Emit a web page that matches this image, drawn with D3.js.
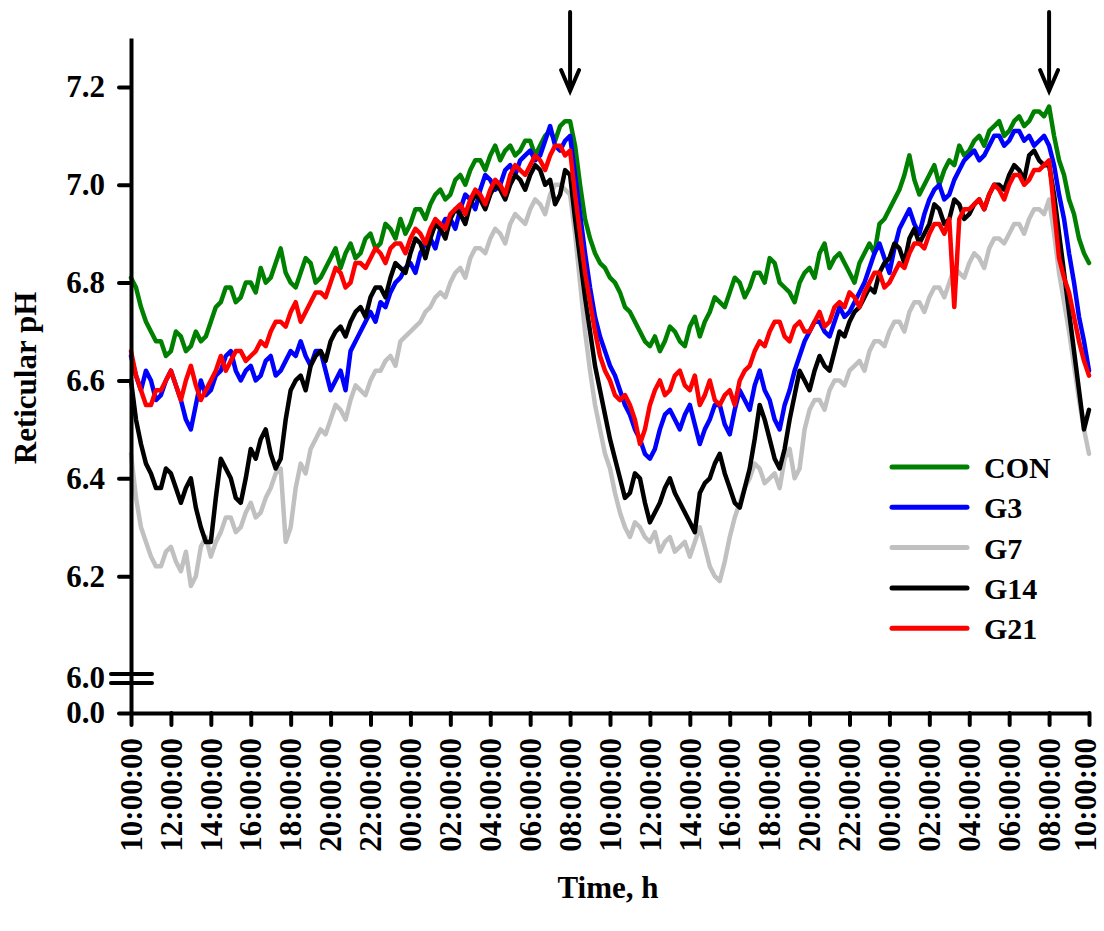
<!DOCTYPE html>
<html><head><meta charset="utf-8">
<script src="https://cdn.jsdelivr.net/npm/d3@7"></script>
<style>
body{margin:0;background:#fff}
text{font-family:"Liberation Serif","Times New Roman",serif;font-weight:bold;fill:#000}
</style></head><body>
<svg id="chart" width="1104" height="931"></svg>
<script>
// ---- data (15-minute readings, hours since 10:00:00; one row = 2 h) ----
const hours = d3.range(0, 48.25, 0.25);
const xTickHours = d3.range(0, 49, 2);
const xTickLabels = ["10:00:00","12:00:00","14:00:00","16:00:00","18:00:00","20:00:00","22:00:00","00:00:00","02:00:00","04:00:00","06:00:00","08:00:00","10:00:00","12:00:00","14:00:00","16:00:00","18:00:00","20:00:00","22:00:00","00:00:00","02:00:00","04:00:00","06:00:00","08:00:00","10:00:00"];
const yTickValues = [0.0, 6.0, 6.2, 6.4, 6.6, 6.8, 7.0, 7.2];
const arrowHours = [22, 46];
const seriesNames = ["CON","G3","G7","G14","G21"];
const seriesColors = ["#008000","#0000ff","#c0c0c0","#000000","#ff0000"];

const CON = [
 6.81,6.79,6.75,6.72,6.70,6.68,6.68,6.65,
 6.66,6.70,6.69,6.66,6.67,6.70,6.68,6.69,
 6.72,6.75,6.76,6.79,6.79,6.76,6.77,6.80,
 6.80,6.78,6.83,6.80,6.81,6.84,6.87,6.82,
 6.80,6.79,6.82,6.85,6.84,6.80,6.81,6.83,
 6.85,6.87,6.83,6.86,6.88,6.85,6.86,6.89,
 6.90,6.87,6.88,6.92,6.91,6.89,6.93,6.90,
 6.92,6.95,6.95,6.93,6.96,6.98,6.99,6.97,
 6.98,7.01,7.02,7.00,7.03,7.05,7.05,7.03,
 7.06,7.08,7.05,7.07,7.08,7.06,7.07,7.09,
 7.09,7.06,7.08,7.10,7.11,7.09,7.12,7.13,
 7.13,7.08,7.00,6.93,6.89,6.86,6.84,6.83,
 6.81,6.80,6.78,6.75,6.74,6.72,6.70,6.68,
 6.67,6.69,6.66,6.68,6.71,6.70,6.68,6.67,
 6.71,6.73,6.69,6.72,6.74,6.77,6.76,6.75,
 6.78,6.81,6.80,6.77,6.79,6.82,6.82,6.80,
 6.85,6.84,6.80,6.79,6.78,6.76,6.80,6.82,
 6.83,6.81,6.86,6.88,6.83,6.85,6.86,6.84,
 6.82,6.80,6.84,6.86,6.88,6.86,6.92,6.93,
 6.95,6.97,6.99,7.02,7.06,7.01,6.98,7.00,
 7.02,7.04,7.00,7.03,7.05,7.04,7.08,7.06,
 7.07,7.09,7.10,7.08,7.11,7.12,7.13,7.10,
 7.11,7.13,7.14,7.12,7.13,7.15,7.15,7.14,
 7.16,7.10,7.05,7.02,6.97,6.94,6.89,6.86,
 6.84];
const G3 = [
 6.65,6.61,6.58,6.62,6.60,6.56,6.57,6.60,
 6.62,6.59,6.56,6.52,6.50,6.55,6.60,6.57,
 6.58,6.61,6.62,6.65,6.66,6.62,6.60,6.62,
 6.63,6.60,6.61,6.64,6.65,6.61,6.62,6.64,
 6.66,6.65,6.68,6.65,6.63,6.66,6.66,6.62,
 6.58,6.60,6.62,6.58,6.66,6.68,6.70,6.72,
 6.74,6.72,6.76,6.75,6.78,6.80,6.81,6.83,
 6.84,6.82,6.86,6.88,6.89,6.87,6.91,6.93,
 6.93,6.91,6.95,6.98,6.97,6.95,6.99,7.02,
 7.01,6.99,7.00,7.03,7.04,7.02,7.05,7.06,
 7.07,7.05,7.06,7.09,7.12,7.08,7.07,7.09,
 7.10,7.02,6.94,6.86,6.79,6.73,6.69,6.66,
 6.63,6.61,6.58,6.55,6.53,6.50,6.48,6.45,
 6.44,6.46,6.50,6.53,6.54,6.52,6.50,6.53,
 6.55,6.51,6.47,6.50,6.52,6.55,6.55,6.51,
 6.49,6.54,6.58,6.56,6.54,6.59,6.62,6.58,
 6.56,6.52,6.50,6.55,6.58,6.62,6.65,6.68,
 6.70,6.72,6.72,6.70,6.69,6.72,6.75,6.73,
 6.74,6.76,6.78,6.80,6.83,6.86,6.88,6.85,
 6.82,6.87,6.91,6.93,6.95,6.92,6.90,6.94,
 6.97,6.99,7.00,6.97,6.98,7.01,7.03,7.05,
 7.06,7.07,7.05,7.06,7.08,7.10,7.10,7.08,
 7.09,7.11,7.11,7.09,7.10,7.08,7.09,7.10,
 7.08,7.04,6.98,6.93,6.86,6.80,6.73,6.68,
 6.62];
const G7 = [
 6.45,6.36,6.30,6.27,6.24,6.22,6.22,6.25,
 6.26,6.23,6.21,6.25,6.18,6.20,6.26,6.28,
 6.24,6.27,6.29,6.32,6.32,6.29,6.30,6.33,
 6.35,6.32,6.33,6.36,6.38,6.41,6.42,6.27,
 6.30,6.38,6.43,6.41,6.46,6.48,6.50,6.49,
 6.52,6.55,6.54,6.52,6.56,6.59,6.58,6.57,
 6.60,6.62,6.62,6.64,6.65,6.63,6.68,6.69,
 6.70,6.71,6.72,6.74,6.75,6.77,6.78,6.77,
 6.80,6.82,6.83,6.81,6.85,6.87,6.87,6.86,
 6.89,6.91,6.90,6.88,6.92,6.94,6.93,6.92,
 6.95,6.97,6.96,6.94,6.98,7.00,7.00,6.99,
 6.98,6.90,6.80,6.70,6.62,6.55,6.50,6.45,
 6.42,6.37,6.33,6.30,6.28,6.31,6.30,6.28,
 6.27,6.29,6.25,6.27,6.28,6.25,6.26,6.27,
 6.24,6.27,6.30,6.26,6.22,6.20,6.19,6.23,
 6.28,6.32,6.35,6.38,6.40,6.43,6.42,6.39,
 6.40,6.41,6.38,6.44,6.46,6.40,6.42,6.50,
 6.54,6.56,6.56,6.54,6.58,6.60,6.60,6.59,
 6.62,6.63,6.64,6.62,6.66,6.68,6.68,6.67,
 6.70,6.72,6.72,6.70,6.74,6.76,6.76,6.74,
 6.77,6.79,6.79,6.77,6.80,6.83,6.82,6.81,
 6.84,6.86,6.85,6.83,6.87,6.89,6.89,6.88,
 6.90,6.92,6.92,6.90,6.93,6.95,6.95,6.94,
 6.97,6.90,6.82,6.76,6.70,6.63,6.56,6.50,
 6.45];
const G14 = [
 6.60,6.52,6.47,6.43,6.41,6.38,6.38,6.42,
 6.41,6.38,6.35,6.38,6.40,6.34,6.30,6.27,
 6.27,6.36,6.44,6.42,6.40,6.36,6.35,6.40,
 6.46,6.44,6.48,6.50,6.45,6.42,6.44,6.52,
 6.58,6.60,6.61,6.58,6.63,6.65,6.66,6.64,
 6.68,6.70,6.71,6.69,6.72,6.74,6.75,6.73,
 6.77,6.79,6.79,6.77,6.81,6.84,6.83,6.82,
 6.86,6.89,6.88,6.85,6.89,6.92,6.91,6.89,
 6.93,6.95,6.94,6.92,6.96,6.98,6.97,6.95,
 6.98,7.00,6.99,6.97,7.00,7.02,7.01,6.99,
 7.02,7.04,7.03,7.00,7.01,6.96,6.98,7.03,
 7.02,6.93,6.85,6.77,6.70,6.63,6.58,6.53,
 6.48,6.44,6.40,6.36,6.37,6.41,6.40,6.35,
 6.31,6.33,6.35,6.38,6.40,6.37,6.35,6.33,
 6.31,6.29,6.37,6.39,6.40,6.43,6.45,6.41,
 6.38,6.35,6.34,6.38,6.42,6.48,6.55,6.52,
 6.48,6.44,6.42,6.46,6.52,6.57,6.62,6.60,
 6.58,6.62,6.65,6.63,6.62,6.66,6.70,6.69,
 6.72,6.74,6.75,6.77,6.79,6.78,6.82,6.84,
 6.85,6.88,6.87,6.84,6.89,6.91,6.88,6.90,
 6.92,6.96,6.95,6.92,6.93,6.97,6.96,6.93,
 6.94,6.96,6.97,6.95,6.98,7.00,7.00,6.99,
 7.02,7.04,7.03,7.01,7.06,7.07,7.05,7.04,
 7.04,6.98,6.90,6.82,6.74,6.66,6.58,6.50,
 6.54];
const G21 = [
 6.66,6.61,6.58,6.55,6.55,6.58,6.58,6.60,
 6.62,6.59,6.56,6.60,6.63,6.59,6.56,6.58,
 6.60,6.62,6.65,6.62,6.64,6.66,6.66,6.64,
 6.65,6.66,6.68,6.67,6.70,6.72,6.72,6.71,
 6.74,6.76,6.72,6.74,6.76,6.78,6.78,6.77,
 6.80,6.83,6.82,6.79,6.80,6.84,6.84,6.83,
 6.85,6.87,6.86,6.84,6.87,6.88,6.88,6.86,
 6.89,6.91,6.90,6.88,6.91,6.93,6.92,6.91,
 6.94,6.95,6.96,6.94,6.97,6.99,6.98,6.96,
 6.99,7.01,7.00,6.98,7.02,7.04,7.03,7.02,
 7.04,7.06,7.05,7.03,7.06,7.08,7.08,7.06,
 7.07,6.98,6.90,6.82,6.76,6.70,6.65,6.62,
 6.60,6.57,6.56,6.57,6.55,6.52,6.47,6.50,
 6.55,6.58,6.60,6.57,6.58,6.61,6.62,6.59,
 6.58,6.61,6.55,6.57,6.60,6.56,6.55,6.57,
 6.58,6.55,6.60,6.62,6.63,6.66,6.68,6.67,
 6.70,6.72,6.72,6.69,6.68,6.71,6.72,6.70,
 6.70,6.72,6.74,6.71,6.72,6.75,6.76,6.75,
 6.78,6.77,6.75,6.78,6.80,6.82,6.82,6.79,
 6.80,6.82,6.84,6.83,6.86,6.88,6.88,6.87,
 6.90,6.92,6.92,6.90,6.93,6.75,6.93,6.95,
 6.95,6.96,6.97,6.95,6.98,7.00,6.99,6.97,
 7.00,7.02,7.02,7.00,7.01,7.03,7.03,7.04,
 7.05,6.95,6.85,6.81,6.78,6.73,6.68,6.64,
 6.61];
const seriesValues = [CON, G3, G7, G14, G21];
const drawOrder = [2, 0, 1, 3, 4];

// ---- scales ----
const svg = d3.select("#chart");
const x = d3.scaleLinear().domain([0, 48]).range([131, 1089]);
const y = d3.scaleLinear().domain([0, 6.0, 7.3]).range([713, 674, 38]);

// ---- lines ----
const line = d3.line().x((d,i)=>x(hours[i])).y(d=>y(d));
drawOrder.forEach(k=>{
  svg.append("path").datum(seriesValues[k])
    .attr("d", line).attr("fill","none")
    .attr("stroke", seriesColors[k]).attr("stroke-width", 4.5)
    .attr("stroke-linejoin","round").attr("stroke-linecap","round");
});

// ---- y axis ----
const yAxis = svg.append("g").attr("transform","translate(131,0)")
  .call(d3.axisLeft(y).tickValues(yTickValues).tickFormat(d3.format(".1f")).tickSize(12).tickSizeOuter(0).tickPadding(14));
yAxis.select(".domain").attr("stroke","#000").attr("stroke-width",4);
yAxis.selectAll(".tick line").attr("stroke","#000").attr("stroke-width",4).attr("stroke-linecap","round");
yAxis.selectAll(".tick text").style("font-size","31px").style("font-family",'"Liberation Serif",serif').style("font-weight","bold");
yAxis.selectAll(".tick").filter(d=>d===6.0).select("line").remove();
yAxis.selectAll(".tick").filter(d=>d===6.0).select("text").attr("dy","0.45em");

// axis break marks
[0, 9].forEach(off=>{
  svg.append("line").attr("x1",111).attr("x2",152)
    .attr("y1", y(6.0)+off).attr("y2", y(6.0)+off)
    .attr("stroke","#000").attr("stroke-width",4).attr("stroke-linecap","round");
});

// ---- x axis ----
const xAxis = svg.append("g").attr("transform","translate(0,713)")
  .call(d3.axisBottom(x).tickValues(xTickHours).tickFormat((d,i)=>xTickLabels[i]).tickSize(12).tickSizeOuter(0));
xAxis.select(".domain").attr("stroke","#000").attr("stroke-width",4);
xAxis.selectAll(".tick line").attr("stroke","#000").attr("stroke-width",4).attr("stroke-linecap","round");
xAxis.selectAll(".tick text")
  .attr("transform","rotate(-90)").attr("x",-25).attr("y",(d,i)=> i===xTickHours.length-1 ? -4 : 0).attr("dy","0.33em")
  .style("text-anchor","end").style("font-size","31px")
  .style("font-family",'"Liberation Serif",serif').style("font-weight","bold");

// ---- arrows ----
arrowHours.forEach(h=>{
  const ax = x(h);
  svg.append("line").attr("x1",ax).attr("x2",ax).attr("y1",12).attr("y2",90)
    .attr("stroke","#000").attr("stroke-width",4).attr("stroke-linecap","round");
  svg.append("path").attr("d",`M${ax-9},${70}L${ax},${91}L${ax+9},${70}`)
    .attr("fill","none").attr("stroke","#000").attr("stroke-width",4)
    .attr("stroke-linecap","round").attr("stroke-linejoin","miter");
});

// ---- titles ----
svg.append("text").attr("transform","translate(36,378) rotate(-90)")
  .attr("text-anchor","middle").style("font-size","31px").text("Reticular pH");
svg.append("text").attr("x",608).attr("y",898)
  .attr("text-anchor","middle").style("font-size","31px").text("Time, h");

// ---- legend ----
const legend = svg.append("g");
seriesNames.forEach((n,i)=>{
  const ly = 467 + i*40.3;
  legend.append("line").attr("x1",892).attr("x2",967).attr("y1",ly).attr("y2",ly)
    .attr("stroke",seriesColors[i]).attr("stroke-width",5).attr("stroke-linecap","round");
  legend.append("text").attr("x",984).attr("y",ly+11).style("font-size","30px").text(n);
});
</script></body></html>
